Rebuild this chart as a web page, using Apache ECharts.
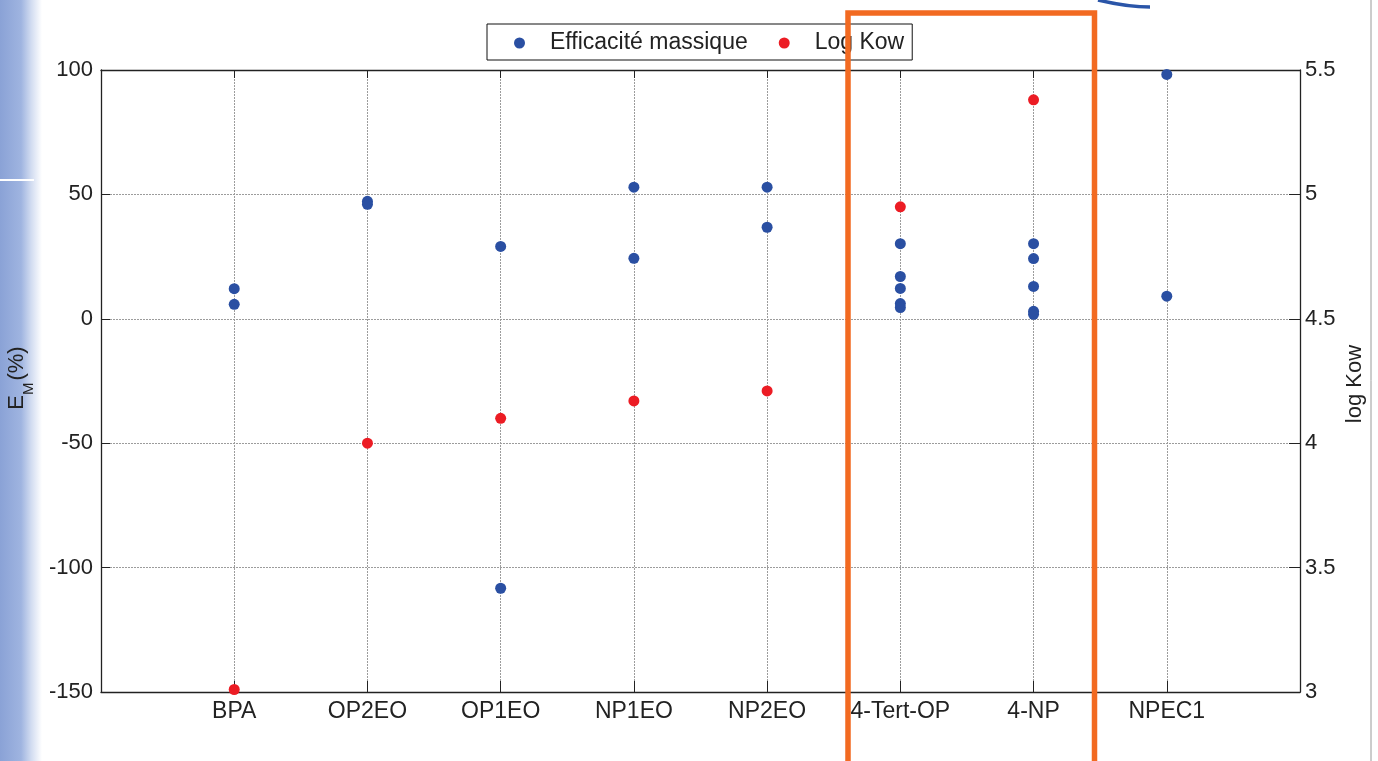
<!DOCTYPE html>
<html>
<head>
<meta charset="utf-8">
<script src="https://cdn.jsdelivr.net/npm/echarts@6/dist/echarts.min.js"></script>
<style>
  html, body { margin: 0; padding: 0; background: #ffffff; }
  #chart { width: 1378px; height: 761px; }
</style>
</head>
<body>
<div id="chart"></div>
<script>
// Compounds along the horizontal axis (placed at positions 1..8)
const categories = ['BPA', 'OP2EO', 'OP1EO', 'NP1EO', 'NP2EO', '4-Tert-OP', '4-NP', 'NPEC1'];

// Mass efficiency E_M (%) per compound, several measurements each
const efficaciteMassique = [
  [12.1, 5.8],
  [47.2, 46.0],
  [29.1, -108.3],
  [52.9, 24.3],
  [52.9, 36.8],
  [30.2, 17.0, 12.2, 6.1, 4.5],
  [30.2, 24.2, 13.0, 3.0, 1.8],
  [98.2, 9.1]
];

// log Kow per compound (none for NPEC1)
const logKow = [3.01, 4.00, 4.10, 4.17, 4.21, 4.95, 5.38, null];

// Tick values of the two vertical axes
const leftTicks = [-150, -100, -50, 0, 50, 100];
const rightTicks = [3, 3.5, 4, 4.5, 5, 5.5];

const seriesNames = ['Efficacité massique', 'Log Kow'];
const colors = ['#2a4fa2', '#ec1c24'];

const blueData = [];
efficaciteMassique.forEach((vals, i) => vals.forEach(v => blueData.push([i + 1, v])));
const redData = [];
logKow.forEach((v, i) => { if (v !== null) redData.push([i + 1, v]); });

const font = '"Liberation Sans", Arial, Helvetica, sans-serif';
const axisColor = '#222';
const gridLine = { color: '#9c9c9c', width: 1, type: [2, 1] };

const chart = echarts.init(document.getElementById('chart'), null, { renderer: 'canvas' });

chart.setOption({
  animation: false,
  backgroundColor: '#ffffff',
  textStyle: { fontFamily: font },
  grid: { left: 101, right: 78, top: 70, bottom: 69, containLabel: false },
  legend: {
    data: seriesNames,
    left: 487,
    top: 24,
    orient: 'horizontal',
    icon: 'circle',
    itemWidth: 11,
    itemHeight: 11,
    itemGap: 31,
    padding: [7, 8, 5, 27],
    borderColor: '#111',
    borderWidth: 1,
    backgroundColor: '#fff',
    itemStyle: { opacity: 1 },
    textStyle: { fontFamily: font, fontSize: 23, color: '#222', lineHeight: 24, padding: [0, 0, 0, 20] }
  },
  xAxis: [
    {
      type: 'value', min: 0, max: categories.length + 1, interval: 1,
      position: 'bottom',
      axisLine: { show: true, onZero: false, lineStyle: { color: axisColor, width: 1.3 } },
      axisTick: { show: true, inside: true, length: 11, lineStyle: { color: axisColor } },
      axisLabel: {
        margin: 8, fontSize: 23, color: '#222', fontFamily: font,
        showMinLabel: false, showMaxLabel: false,
        formatter: v => categories[v - 1] || ''
      },
      splitLine: { show: true, lineStyle: gridLine }
    },
    {
      type: 'value', min: 0, max: categories.length + 1, interval: 1,
      position: 'top',
      axisLine: { show: true, onZero: false, lineStyle: { color: axisColor, width: 1.3 } },
      axisTick: { show: true, inside: true, length: 8, lineStyle: { color: axisColor } },
      axisLabel: { show: false },
      splitLine: { show: false }
    }
  ],
  yAxis: [
    {
      type: 'value', min: leftTicks[0], max: leftTicks[leftTicks.length - 1], interval: 50,
      position: 'left',
      axisLine: { show: true, onZero: false, lineStyle: { color: axisColor, width: 1.3 } },
      axisTick: { show: true, inside: true, length: 9, lineStyle: { color: axisColor } },
      axisLabel: { margin: 8, fontSize: 22, color: '#222', fontFamily: font },
      splitLine: { show: true, lineStyle: gridLine }
    },
    {
      type: 'value', min: rightTicks[0], max: rightTicks[rightTicks.length - 1], interval: 0.5,
      position: 'right',
      axisLine: { show: true, onZero: false, lineStyle: { color: axisColor, width: 1.3 } },
      axisTick: { show: true, inside: true, length: 11, lineStyle: { color: axisColor } },
      axisLabel: { margin: 5, fontSize: 22, color: '#222', fontFamily: font },
      splitLine: { show: false }
    }
  ],
  series: [
    {
      name: seriesNames[0], type: 'scatter', xAxisIndex: 0, yAxisIndex: 0,
      symbol: 'circle', symbolSize: 11,
      itemStyle: { color: colors[0], opacity: 1 },
      data: blueData, z: 3
    },
    {
      name: seriesNames[1], type: 'scatter', xAxisIndex: 0, yAxisIndex: 1,
      symbol: 'circle', symbolSize: 11,
      itemStyle: { color: colors[1], opacity: 1 },
      data: redData, z: 4
    }
  ],
  graphic: [
    // textured blue band on the left page edge
    {
      type: 'rect', z: -10, silent: true,
      shape: { x: 0, y: 0, width: 42, height: 761 },
      style: {
        fill: new echarts.graphic.LinearGradient(0, 0, 1, 0, [
          { offset: 0, color: '#8aa2d6' },
          { offset: 0.5, color: '#9fb4e0' },
          { offset: 0.75, color: '#d3ddf1' },
          { offset: 1, color: '#ffffff' }
        ])
      }
    },
    {
      type: 'line', z: -9, silent: true,
      shape: { x1: 0, y1: 180, x2: 34, y2: 180 },
      style: { stroke: '#ffffff', lineWidth: 2 }
    },
    // page frame line on the right
    {
      type: 'line', z: -9, silent: true,
      shape: { x1: 1371, y1: 0, x2: 1371, y2: 761 },
      style: { stroke: '#9a9a9a', lineWidth: 1 }
    },
    // logo swoosh fragment at the top
    {
      type: 'bezierCurve', z: -9, silent: true,
      shape: { x1: 1098, y1: 0, cpx1: 1115, cpy1: 4, cpx2: 1132, cpy2: 7, x2: 1150, y2: 7 },
      style: { stroke: '#2a55a8', lineWidth: 3.5, fill: null }
    },
    // left axis title: E_M (%)
    {
      type: 'text', z: 10, silent: true,
      x: 19, y: 378, rotation: Math.PI / 2,
      style: {
        text: '{a|E}{b|M}{a|(%)}',
        align: 'center', verticalAlign: 'middle',
        rich: {
          a: { fontSize: 22, fontFamily: font, fill: '#222', lineHeight: 34, verticalAlign: 'top', padding: [4, 0, 0, 0] },
          b: { fontSize: 15, fontFamily: font, fill: '#222', lineHeight: 34, verticalAlign: 'bottom', padding: [0, 2, 0, 0] }
        }
      }
    },
    // right axis title
    {
      type: 'text', z: 10, silent: true,
      x: 1355, y: 384, rotation: Math.PI / 2,
      style: {
        text: 'log Kow', align: 'center', verticalAlign: 'middle',
        fontSize: 22, fontFamily: font, fill: '#222'
      }
    },
    // highlight frame around 4-Tert-OP and 4-NP
    {
      type: 'rect', z: 100, silent: true,
      shape: { x: 848, y: 13, width: 246.5, height: 770 },
      style: { fill: null, stroke: '#f26a21', lineWidth: 5.5 }
    }
  ]
});
</script>
</body>
</html>
